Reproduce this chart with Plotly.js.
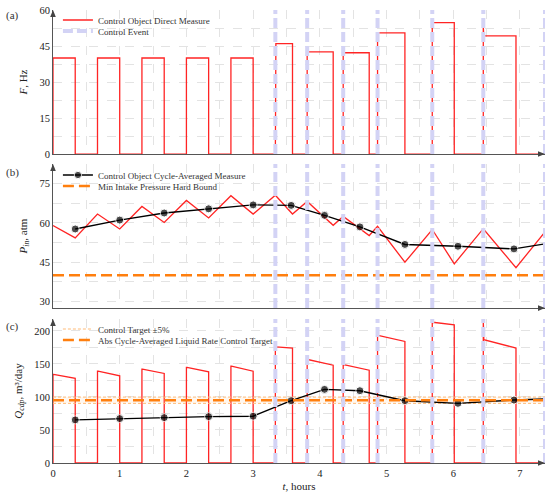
<!DOCTYPE html>
<html>
<head>
<meta charset="utf-8">
<script src="https://cdn.plot.ly/plotly-3.0.1.min.js"></script>
<style>html,body{margin:0;padding:0;background:#fff;}#chart{width:550px;height:494px;}</style>
</head>
<body>
<div id="chart"></div>
<script>
// ---------------- DATA ----------------
var T_RANGE = [0, 7.375];
// Pump ON periods (hours)
var ON_START = [0, 0.667, 1.333, 2.0, 2.667, 3.333, 3.81, 4.35, 4.865, 5.685, 6.45];
var ON_END   = [0.333, 1.0, 1.667, 2.333, 3.0, 3.59, 4.2, 4.74, 5.275, 6.015, 6.94];
// Frequency F, Hz
var F_INIT  = [40, 40, 40, 40, 40, 40, 42.6, 42.2, 50.5, 54.7, 52.8];
var F_LEVEL = [40, 40, 40, 40, 40, 46, 42.6, 42.2, 50.5, 54.7, 49.2];
// Liquid rate Q, m3/day (start peak, start, end of each ON period)
var Q_PEAK  = [134, 139, 142, 144.6, 146.5, 175.6, 156.6, 149, 193, 213, 216];
var Q_START = [134, 139, 142, 144.6, 146.5, 175.6, 156.6, 149, 193, 213, 186.7];
var Q_END   = [128, 132, 135.5, 138, 139, 174, 148, 140.5, 184, 209, 174];
// Intake pressure, atm (direct)
var P_T = [0, 0.333, 0.667, 1.0, 1.333, 1.667, 2.0, 2.333, 2.667, 3.0, 3.333, 3.59, 3.81, 4.2, 4.35, 4.74, 4.865, 5.275, 5.685, 6.015, 6.45, 6.94, 7.375];
var P_V = [59, 54.3, 63.4, 57.7, 66.3, 60.2, 68.6, 61.9, 70.4, 63.4, 70.6, 63.4, 68.2, 59.1, 62.5, 55.2, 58.7, 45, 57.5, 44.4, 57.8, 42.9, 56.6];
// Cycle-averaged measures
var AVG_T = [0.333, 1.0, 1.667, 2.333, 3.0, 3.57, 4.07, 4.6, 5.275, 6.07, 6.91, 7.375];
var P_AVG = [57.7, 61.1, 63.8, 65.4, 66.9, 66.7, 62.9, 58.5, 51.8, 51.1, 50.1, 52.0];
var Q_AVG = [65.2, 67.2, 68.7, 70.2, 70.8, 94.3, 111.4, 109.4, 94.3, 90.3, 95.3, 96.8];
// Control events (hours)
var EVENTS = [3.333, 3.81, 4.35, 4.865, 5.685, 6.45, 7.375];
// Bounds / targets
var P_MIN = 40;
var Q_TARGET = 95;
var Q_TOL = 0.05;

// ---------------- BUILD ----------------
var RED = '#ff2424', LAV = '#d3d3f5', ORANGE = '#ff7f0e', LORANGE = '#ffbb78';
var DT = 0.008;
function stepF() {
  var x = [], y = [];
  for (var i = 0; i < ON_START.length; i++) {
    x.push(ON_START[i], ON_START[i], ON_START[i] + DT, ON_END[i], ON_END[i]);
    y.push(0, F_INIT[i], F_LEVEL[i], F_LEVEL[i], 0);
  }
  x.push(T_RANGE[1]); y.push(0);
  return {x: x, y: y};
}
function stepQ() {
  var x = [], y = [];
  for (var i = 0; i < ON_START.length; i++) {
    x.push(ON_START[i], ON_START[i], ON_START[i] + DT, ON_END[i], ON_END[i]);
    y.push(0, Q_PEAK[i], Q_START[i], Q_END[i], 0);
  }
  x.push(T_RANGE[1]); y.push(0);
  return {x: x, y: y};
}
var F = stepF(), Q = stepQ();
var mSizes = AVG_T.map(function (t, i) { return i === AVG_T.length - 1 ? 0 : 8; });

var FONT = 'Liberation Serif, DejaVu Serif, serif';
var traces = [
  {x: F.x, y: F.y, xaxis: 'x', yaxis: 'y', mode: 'lines', line: {color: RED, width: 1.3},
   name: 'Control Object Direct Measure', legend: 'legend'},
  {x: [null], y: [null], xaxis: 'x', yaxis: 'y', mode: 'lines', line: {color: LAV, width: 4, dash: '10px,4px'},
   name: 'Control Event', legend: 'legend2'},
  {x: P_T, y: P_V, xaxis: 'x2', yaxis: 'y2', mode: 'lines', line: {color: RED, width: 1.3}, showlegend: false},
  {x: AVG_T, y: P_AVG, xaxis: 'x2', yaxis: 'y2', mode: 'lines+markers', line: {color: '#000', width: 1.4},
   marker: {color: '#000', size: mSizes}, name: 'Control Object Cycle-Averaged Measure', legend: 'legend3'},
  {x: T_RANGE, y: [P_MIN, P_MIN], xaxis: 'x2', yaxis: 'y2', mode: 'lines', line: {color: ORANGE, width: 2.5, dash: '11px,5px'},
   name: 'Min Intake Pressure Hard Bound', legend: 'legend4'},
  {x: Q.x, y: Q.y, xaxis: 'x3', yaxis: 'y3', mode: 'lines', line: {color: RED, width: 1.3}, showlegend: false},
  {x: T_RANGE, y: T_RANGE.map(function(){return Q_TARGET*(1-Q_TOL);}), xaxis: 'x3', yaxis: 'y3', mode: 'lines',
   line: {color: LORANGE, width: 1, dash: '3px,2px'}, name: 'Control Target \u00b15%', legend: 'legend5', legendgroup: 'tol'},
  {x: T_RANGE, y: T_RANGE.map(function(){return Q_TARGET*(1+Q_TOL);}), xaxis: 'x3', yaxis: 'y3', mode: 'lines',
   line: {color: LORANGE, width: 1, dash: '3px,2px'}, fill: 'tonexty', fillcolor: 'rgba(255,187,120,0.12)',
   showlegend: false, legendgroup: 'tol', legend: 'legend5'},
  {x: AVG_T, y: Q_AVG, xaxis: 'x3', yaxis: 'y3', mode: 'lines+markers', line: {color: '#000', width: 1.4},
   marker: {color: '#000', size: mSizes}, showlegend: false},
  {x: T_RANGE, y: [Q_TARGET, Q_TARGET], xaxis: 'x3', yaxis: 'y3', mode: 'lines', line: {color: ORANGE, width: 2.5, dash: '11px,5px'},
   name: 'Abs Cycle-Averaged Liquid Rate Control Target', legend: 'legend6'}
];

var shapes = [];
['', '2', '3'].forEach(function (s) {
  EVENTS.forEach(function (t) {
    shapes.push({type: 'line', xref: 'x' + s, yref: 'y' + s + ' domain', x0: t, x1: t, y0: 0, y1: 1,
      line: {color: LAV, width: 4, dash: '10px,4px'}, layer: 'above'});
  });
});
// axis arrowheads (decoration, in axis-domain units)
var PW = 492, PH = 144, AL = 7, AW = 2.8;
['', '2', '3'].forEach(function (s) {
  var up = 'M0,1 L' + (-AW / PW) + ',' + (1 - AL / PH) + ' L' + (AW / PW) + ',' + (1 - AL / PH) + ' Z';
  var rt = 'M1,0 L' + (1 - AL / PW) + ',' + (AW / PH) + ' L' + (1 - AL / PW) + ',' + (-AW / PH) + ' Z';
  [up, rt].forEach(function (p) {
    shapes.push({type: 'path', xref: 'x' + s + ' domain', yref: 'y' + s + ' domain', path: p,
      fillcolor: '#444', line: {width: 0}, layer: 'above'});
  });
});

function xax(show, anchor) {
  return {range: T_RANGE, anchor: anchor, showline: true, linecolor: '#555', linewidth: 1,
    zeroline: false, dtick: 1, tick0: 0, showticklabels: show, ticks: '',
    showgrid: true, gridcolor: '#e3e3e3', griddash: 'dash', gridwidth: 1,
    minor: {dtick: 0.5, showgrid: true, gridcolor: '#e3e3e3', griddash: 'dash'},
    tickfont: {family: FONT, size: 10.5, color: '#222'}};
}
function yax(range, dtick, mdt, domain, anchor, title) {
  return {range: range, domain: domain, anchor: anchor, showline: true, linecolor: '#555', linewidth: 1,
    zeroline: false, dtick: dtick, tick0: 0, ticks: '',
    showgrid: true, gridcolor: '#e3e3e3', griddash: 'dash',
    minor: {dtick: mdt, showgrid: true, gridcolor: '#e3e3e3', griddash: 'dash'},
    tickfont: {family: FONT, size: 10.5, color: '#222'},
    title: {text: title, font: {family: FONT, size: 11, color: '#222'}, standoff: 9}};
}

// one-entry legends placed row by row (row centre in px from top)
function leg(rowPx) {
  return {bgcolor: 'rgba(255,255,255,0)', borderwidth: 0, font: {family: FONT, size: 9, color: '#333'},
    xref: 'paper', yref: 'paper', xanchor: 'left', yanchor: 'middle', itemwidth: 30,
    traceorder: 'normal', x: 0.01, y: (463 - rowPx) / 453};
}

var labels = [['(a)', 0.987], ['(b)', 0.642], ['(c)', 0.302]].map(function (l) {
  return {xref: 'paper', yref: 'paper', x: -0.1, y: l[1], xanchor: 'left', yanchor: 'middle', text: l[0],
    showarrow: false, font: {family: FONT, size: 11, color: '#333'}};
});

var layout = {
  width: 550, height: 494, margin: {l: 53, r: 5, t: 10, b: 31},
  paper_bgcolor: '#fff', plot_bgcolor: '#fff', font: {family: FONT, color: '#222'},
  xaxis: xax(false, 'y'), xaxis2: xax(false, 'y2'), xaxis3: xax(true, 'y3'),
  yaxis: yax([0, 60], 15, 7.5, [0.682, 1], 'x', '<i>F</i>, Hz'),
  yaxis2: yax([27.5, 82.5], 15, 7.5, [0.342, 0.660], 'x2', '<i>P<sub>in</sub></i>, atm'),
  yaxis3: yax([0, 218], 50, 25, [0, 0.318], 'x3', '<i>Q<sub>cdp</sub></i>, m\u00b3/day'),
  legend: leg(20), legend2: leg(31), legend3: leg(175), legend4: leg(186), legend5: leg(329), legend6: leg(340),
  shapes: shapes,
  annotations: labels,
  showlegend: true
};
layout.xaxis3.title = {text: '<i>t</i>, hours', font: {family: FONT, size: 11, color: '#222'}, standoff: 4};

Plotly.newPlot('chart', traces, layout, {staticPlot: true, displayModeBar: false});
</script>
</body>
</html>
